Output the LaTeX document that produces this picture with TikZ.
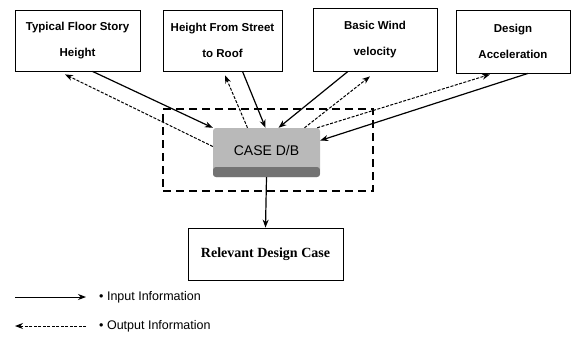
\documentclass[tikz,border=0pt]{standalone}
\usepackage{fontspec}
\setmainfont{Liberation Sans}
\newfontfamily\serifb{Liberation Serif}
\usetikzlibrary{arrows.meta}
\tikzset{
  inbox/.style={draw, line width=0.8pt, fill=white, align=center, inner sep=0pt,
    font=\bfseries\fontsize{11.5}{13}\selectfont},
  solidarrow/.style={line width=1.2pt, -{Stealth[length=8pt,width=6pt]}},
  dasharrow/.style={line width=1pt, dash pattern=on 3pt off 1.5pt, -{Stealth[length=8pt,width=6pt]}},
  caseb/.style={fill=gray!55, rounded corners=3pt, minimum width=107pt, minimum height=49pt,
    inner sep=0pt, font=\fontsize{14}{16}\selectfont,
    path picture={\fill[black!55] ([yshift=10pt]path picture bounding box.south west) rectangle (path picture bounding box.south east);}},
  frame/.style={draw, line width=2.6pt, dash pattern=on 8pt off 5pt, minimum width=210pt, minimum height=82pt, inner sep=0pt},
  legtext/.style={anchor=west, font=\fontsize{12.5}{14}\selectfont, inner sep=0pt}
}
\begin{document}
\begin{tikzpicture}[x=1pt,y=-1pt]
\useasboundingbox (0,0) rectangle (581,340);
% dashed frame
\node[frame] (fr) at (268,150) {};
% boxes
\node[inbox, minimum width=125pt, minimum height=61pt] (b1) at (77.5,40.5) {Typical Floor Story\\[13pt]Height};
\node[inbox, minimum width=119pt, minimum height=61pt] (b2) at (222.5,40.5) {Height From Street\\[13pt]to Roof};
\node[inbox, minimum width=124pt, minimum height=63pt] (b3) at (375,39.5) {Basic Wind\\[13pt]velocity};
\node[inbox, minimum width=114pt, minimum height=63pt] (b4) at (513,41.5) {Design\\[13pt]Acceleration};
% case box
\node[caseb] (c) at (266.5,152.5) {\raisebox{5pt}{CASE D/B}};
% result box
\node[draw, line width=0.8pt, minimum width=155pt, minimum height=52pt, inner sep=0pt,
  font=\serifb\bfseries\fontsize{14}{16}\selectfont] (r) at (265.5,254) {Relevant Design Case};
% arrows
\draw[solidarrow] ([xshift=15pt]b1.south) -- (c.north west);
\draw[dasharrow] ([yshift=6pt]c.west) -- ([xshift=-12.5pt,yshift=-3pt]b1.south);
\draw[dasharrow] ([xshift=-19pt]c.north) -- ([xshift=2.5pt,yshift=-4pt]b2.south);
\draw[solidarrow] ([xshift=20pt]b2.south) -- ([xshift=-1pt]c.north);
\draw[solidarrow] ([xshift=-27pt]b3.south) -- ([xshift=12pt]c.north);
\draw[dasharrow] ([xshift=38pt]c.north) -- ([xshift=-5pt,yshift=-5pt]b3.south);
\draw[dasharrow] ([xshift=-3pt]c.north east) -- ([xshift=-23pt,yshift=-1pt]b4.south);
\draw[solidarrow] ([xshift=15pt]b4.south) -- ([yshift=12pt]c.east);
\draw[solidarrow] (c.south) -- (r.north);
% legend
\coordinate (la) at (15,297);
\coordinate (lb) at (86,297);
\coordinate (lc) at (15,326);
\coordinate (ld) at (86,326);
\draw[line width=1pt, -{Stealth[length=8pt,width=6pt]}] (la) -- (lb);
\draw[line width=1pt, dash pattern=on 3pt off 1.5pt, -{Stealth[length=8pt,width=6pt]}] (ld) -- (lc);
\node[legtext] (t1) at (99,297) {\textbullet\ Input Information};
\node[legtext] (t2) at (99,326) {\textbullet\ Output Information};
\end{tikzpicture}
\end{document}
